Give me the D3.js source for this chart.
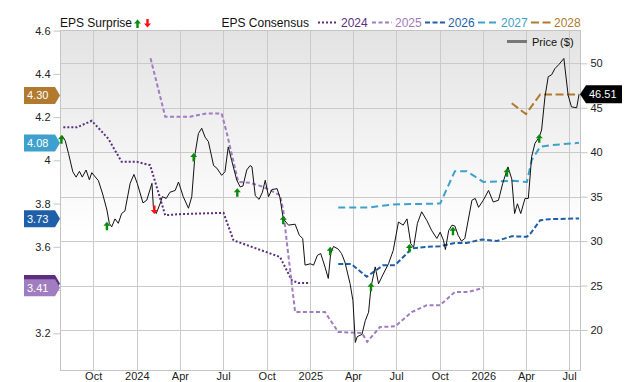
<!DOCTYPE html>
<html>
<head>
<meta charset="utf-8">
<script src="https://cdn.jsdelivr.net/npm/d3@7"></script>
<style>
  body { margin: 0; background: #fff; }
  svg { display: block; font-family: "Liberation Sans", Arial, sans-serif; }
</style>
</head>
<body>
<svg id="chart" width="640" height="382"></svg>
<script>
// ---- data ----
const priceData = [
  ["2023-07-27",41.9],["2023-08-03",41.3],["2023-08-10",39.85],["2023-08-19",37.8],["2023-08-26",37.2],
  ["2023-09-02",37.85],["2023-09-08",37.2],["2023-09-16",38.0],["2023-09-23",36.9],["2023-09-28",37.7],
  ["2023-10-12",36.8],["2023-10-21",35.3],["2023-10-30",33.5],["2023-11-04",32.0],["2023-11-09",31.6],
  ["2023-11-16",32.5],["2023-11-23",32.0],["2023-11-30",33.1],["2023-12-07",33.4],["2023-12-18",36.5],
  ["2023-12-26",37.5],["2024-01-02",36.5],["2024-01-14",34.3],["2024-01-22",34.6],["2024-02-02",36.5],
  ["2024-02-05",33.8],["2024-02-11",33.1],["2024-02-19",34.2],["2024-02-24",35.0],["2024-03-03",34.8],
  ["2024-03-11",35.5],["2024-03-22",35.7],["2024-03-29",36.65],["2024-04-08",35.0],["2024-04-19",33.7],
  ["2024-04-26",35.0],["2024-05-03",39.85],["2024-05-10",42.1],["2024-05-17",42.7],["2024-05-24",41.7],
  ["2024-05-31",41.2],["2024-06-11",38.5],["2024-06-18",38.2],["2024-06-28",37.4],["2024-07-05",37.8],
  ["2024-07-12",40.6],["2024-07-19",39.1],["2024-07-30",36.85],["2024-08-06",36.1],["2024-08-12",36.2],
  ["2024-08-20",38.0],["2024-08-27",38.5],["2024-08-31",38.35],["2024-09-07",35.1],["2024-09-15",34.7],
  ["2024-09-22",35.5],["2024-09-28",36.85],["2024-10-05",35.0],["2024-10-12",35.8],["2024-10-23",35.9],
  ["2024-10-29",34.9],["2024-11-05",32.5],["2024-11-16",31.8],["2024-11-30",31.9],["2024-12-09",30.65],
  ["2024-12-16",30.3],["2024-12-21",27.3],["2025-01-01",27.45],["2025-01-08",27.3],["2025-01-16",28.4],
  ["2025-01-23",28.6],["2025-02-01",27.1],["2025-02-08",25.8],["2025-02-13",28.6],["2025-02-19",29.4],
  ["2025-03-01",29.1],["2025-03-08",28.6],["2025-03-15",27.65],["2025-03-26",25.2],["2025-04-01",23.3],
  ["2025-04-06",18.6],["2025-04-10",19.25],["2025-04-20",19.5],["2025-04-27",21.05],["2025-05-04",22.0],
  ["2025-05-09",24.8],["2025-05-18",27.1],["2025-05-25",25.2],["2025-06-04",26.3],["2025-06-15",27.45],
  ["2025-06-25",28.95],["2025-07-06",32.15],["2025-07-16",31.8],["2025-07-24",32.5],["2025-08-01",29.7],
  ["2025-08-07",29.3],["2025-08-15",32.0],["2025-08-24",33.3],["2025-09-04",32.3],["2025-09-14",31.2],
  ["2025-09-25",30.3],["2025-10-02",31.0],["2025-10-09",30.1],["2025-10-13",29.05],["2025-10-20",31.2],
  ["2025-10-27",31.8],["2025-11-02",31.7],["2025-11-09",30.65],["2025-11-16",30.0],["2025-11-23",30.3],
  ["2025-12-08",34.6],["2025-12-15",34.8],["2025-12-22",33.8],["2026-01-01",34.6],["2026-01-12",35.7],
  ["2026-01-22",34.4],["2026-02-02",34.6],["2026-02-11",36.5],["2026-02-22",38.35],["2026-03-02",37.0],
  ["2026-03-08",33.1],["2026-03-14",34.2],["2026-03-21",33.1],["2026-03-30",34.8],["2026-04-06",34.8],
  ["2026-04-13",39.5],["2026-04-20",41.0],["2026-04-29",41.7],["2026-05-04",42.5],["2026-05-11",46.2],
  ["2026-05-18",48.5],["2026-05-25",48.7],["2026-06-01",49.4],["2026-06-10",49.9],["2026-06-20",50.55],
  ["2026-06-29",46.4],["2026-07-06",45.1],["2026-07-17",45.0],["2026-07-22",46.51]
];

const eps2024 = [
  ["2023-07-30",4.153],["2023-08-28",4.153],["2023-09-28",4.183],["2023-11-02",4.10],["2023-11-30",3.993],
  ["2024-01-01",3.993],["2024-01-29",3.978],["2024-02-12",3.877],["2024-03-01",3.746],["2024-04-01",3.751],
  ["2024-05-13",3.754],["2024-07-02",3.757],["2024-07-23",3.63],["2024-10-29",3.553],["2024-11-23",3.445],
  ["2024-12-07",3.433],["2025-01-01",3.433]
];
const eps2025 = [
  ["2024-01-30",4.472],["2024-03-01",4.202],["2024-04-22",4.202],["2024-05-28",4.217],["2024-06-28",4.217],
  ["2024-07-09",4.125],["2024-08-02",3.90],["2024-08-27",3.896],["2024-09-24",3.877],["2024-10-29",3.839],
  ["2024-11-05",3.77],["2024-11-12",3.63],["2024-11-30",3.298],["2025-02-01",3.298],["2025-03-01",3.206],
  ["2025-04-20",3.201],["2025-05-01",3.16],["2025-05-28",3.229],["2025-06-29",3.232],["2025-08-03",3.298],
  ["2025-09-04",3.33],["2025-10-02",3.33],["2025-11-02",3.391],["2025-11-30",3.391],["2026-01-01",3.41]
];
const eps2026 = [
  ["2025-03-01",3.52],["2025-03-29",3.52],["2025-04-30",3.461],["2025-06-04",3.515],["2025-06-29",3.515],
  ["2025-08-03",3.592],["2025-09-04",3.60],["2025-10-02",3.603],["2025-11-02",3.618],["2025-11-27",3.618],
  ["2025-12-29",3.634],["2026-01-30",3.627],["2026-03-02",3.649],["2026-04-03",3.646],["2026-04-10",3.66],
  ["2026-05-01",3.723],["2026-05-22",3.728],["2026-07-22",3.731]
];
const eps2027 = [
  ["2025-03-01",3.782],["2025-05-04",3.782],["2025-06-25",3.796],["2025-10-02",3.80],["2025-11-02",3.95],
  ["2025-11-27",3.95],["2026-01-01",3.90],["2026-03-05",3.905],["2026-04-03",3.90],["2026-04-13",4.0],
  ["2026-05-01",4.063],["2026-05-22",4.07],["2026-07-22",4.081]
];
const eps2028 = [
  ["2026-03-02",4.264],["2026-04-01",4.214],["2026-05-01",4.305],["2026-07-22",4.305]
];

const surprises = [
  ["2023-07-26",41.9,"up"],["2023-10-30",32.18,"up"],["2024-02-07",33.05,"down"],["2024-04-30",39.9,"up"],
  ["2024-07-31",35.95,"up"],["2024-11-05",32.86,"up"],["2025-02-12",29.37,"up"],["2025-05-09",25.32,"up"],
  ["2025-07-29",29.67,"up"],["2025-10-29",31.62,"up"],["2026-02-20",38.19,"up"],["2026-04-29",42.01,"up"]
];

const years = ["2024","2025","2026","2027","2028"];
const yearSeries = [eps2024, eps2025, eps2026, eps2027, eps2028];
const yearTags = [3.43, 3.41, 3.73, 4.08, 4.30];
// the 2024 tag sits under the 2025 one, its label is not visible
const yearTagLabels = ["", "3.41", "3.73", "4.08", "4.30"];
const lastPrice = 46.51;
const epsTicks = [3.2, 3.4, 3.6, 3.8, 4.0, 4.2, 4.4, 4.6];
const priceTicks = [20, 25, 30, 35, 40, 45, 50];

// ---- styles ----
const yearColors = ["#5b2e7e", "#a07cc0", "#1f5fa8", "#3ea0cc", "#b17a2e"];
const yearDash = ["2,2", "4,2.5", "5,2.5", "7,4", "8,3.5"];

const pL = 60, pR = 580, pT = 30, pB = 370;
const parse = d3.timeParse("%Y-%m-%d");

const svg = d3.select("#chart");

const x = d3.scaleTime()
  .domain([parse("2023-07-23"), parse("2026-07-24")])
  .range([pL, pR]);
const yEps = d3.scaleLinear().domain([3.03, 4.603]).range([pB, pT]);
const yPrice = d3.scaleLinear().domain([15.5, 53.75]).range([pB, pT]);

// background gradient
const defs = svg.append("defs");
const grad = defs.append("linearGradient").attr("id", "bg")
  .attr("x1", 0).attr("y1", 0).attr("x2", 0).attr("y2", 1);
grad.append("stop").attr("offset", "0%").attr("stop-color", "#e3e3e3");
grad.append("stop").attr("offset", "60%").attr("stop-color", "#ffffff");
grad.append("stop").attr("offset", "100%").attr("stop-color", "#ffffff");
defs.append("clipPath").attr("id", "plotClip")
  .append("rect").attr("x", pL).attr("y", pT).attr("width", pR - pL).attr("height", pB - pT);

svg.append("rect").attr("x", pL).attr("y", pT)
  .attr("width", pR - pL).attr("height", pB - pT)
  .attr("fill", "url(#bg)");

// grid
const xTicks = d3.timeMonth.every(3).range(parse("2023-10-01"), parse("2026-07-25"));
svg.append("g").selectAll("line").data(xTicks).join("line")
  .attr("x1", d => Math.round(x(d)) + 0.5).attr("x2", d => Math.round(x(d)) + 0.5)
  .attr("y1", pT).attr("y2", pB)
  .attr("stroke", "#cacaca");
svg.append("g").selectAll("line").data(priceTicks).join("line")
  .attr("x1", pL).attr("x2", pR)
  .attr("y1", d => Math.round(yPrice(d)) + 0.5).attr("y2", d => Math.round(yPrice(d)) + 0.5)
  .attr("stroke", "#cacaca");

svg.append("rect").attr("x", pL + 0.5).attr("y", pT + 0.5)
  .attr("width", pR - pL).attr("height", pB - pT)
  .attr("fill", "none").attr("stroke", "#c4c4c4");

// axes (3.4 label is covered by the year tags in the picture)
const axL = svg.append("g").attr("transform", `translate(${pL + 0.5},0)`)
  .call(d3.axisLeft(yEps).tickValues(epsTicks).tickSize(7).tickPadding(3)
    .tickFormat(d => Math.abs(d - 3.4) < 1e-9 ? "" : d3.format("~g")(d)));
const axR = svg.append("g").attr("transform", `translate(${pR + 0.5},0)`)
  .call(d3.axisRight(yPrice).tickValues(priceTicks).tickSize(7).tickPadding(3));
const fmtX = d => d.getMonth() === 0 ? d3.timeFormat("%Y")(d) : d3.timeFormat("%b")(d);
const axB = svg.append("g").attr("transform", `translate(0,${pB})`)
  .call(d3.axisBottom(x).tickValues(xTicks).tickSize(0).tickPadding(2).tickFormat(fmtX));
[axL, axR, axB].forEach(a => {
  a.select(".domain").remove();
  a.selectAll(".tick line").attr("stroke", "#c4c4c4");
  a.selectAll("text").attr("fill", "#222").style("font-size", "11px")
    .style("font-family", "'Liberation Sans', Arial, sans-serif");
});

// consensus lines
const plot = svg.append("g").attr("clip-path", "url(#plotClip)");
const epsLine = d3.line().x(d => x(parse(d[0]))).y(d => yEps(d[1]));
yearSeries.forEach((s, i) => {
  plot.append("path").datum(s)
    .attr("d", epsLine)
    .attr("fill", "none")
    .attr("stroke", yearColors[i])
    .attr("stroke-width", 2)
    .attr("stroke-dasharray", yearDash[i]);
});

// price line
const priceLine = d3.line().x(d => x(parse(d[0]))).y(d => yPrice(d[1]));
plot.append("path").datum(priceData)
  .attr("d", priceLine)
  .attr("fill", "none")
  .attr("stroke", "#111")
  .attr("stroke-width", 1);

// surprise arrows
function arrowPath(dir) {
  const s = dir === "up" ? 1 : -1;
  return `M0,0 L3.5,${4 * s} L1.2,${4 * s} L1.2,${8.5 * s} L-1.2,${8.5 * s} L-1.2,${4 * s} L-3.5,${4 * s} Z`;
}
svg.append("g").selectAll("path").data(surprises).join("path")
  .attr("transform", d => `translate(${x(parse(d[0]))},${yPrice(d[1])})`)
  .attr("d", d => arrowPath(d[2]))
  .attr("fill", d => d[2] === "up" ? "#0a8a0a" : "#ff1010");

// left tags
const tagG = svg.append("g");
yearTags.forEach((v, i) => {
  const yy = yEps(v);
  tagG.append("path")
    .attr("d", `M24,${yy - 8.5} L55,${yy - 8.5} L60,${yy} L55,${yy + 8.5} L24,${yy + 8.5} Z`)
    .attr("fill", yearColors[i]);
  if (yearTagLabels[i]) {
    tagG.append("text").attr("x", 27).attr("y", yy + 4)
      .attr("fill", "#fff").style("font-size", "11px").text(yearTagLabels[i]);
  }
});

// right price tag
const py = yPrice(lastPrice);
svg.append("path")
  .attr("d", `M${pR},${py} L${pR + 6},${py - 9} L622,${py - 9} L622,${py + 9} L${pR + 6},${py + 9} Z`)
  .attr("fill", "#000");
svg.append("text").attr("x", 589).attr("y", py + 4)
  .attr("fill", "#fff").style("font-size", "11px").text(lastPrice.toFixed(2));

// legend
svg.append("text").attr("x", 60).attr("y", 27).style("font-size", "12px").attr("fill", "#111").text("EPS Surprise");
svg.append("path").attr("transform", "translate(137.5,19.5)").attr("d", arrowPath("up")).attr("fill", "#0a8a0a");
svg.append("path").attr("transform", "translate(147.5,27.5)").attr("d", arrowPath("down")).attr("fill", "#ff1010");
svg.append("text").attr("x", 221.5).attr("y", 27).style("font-size", "12px").attr("fill", "#111").text("EPS Consensus");

const legX = [318, 372, 425, 478, 531];
years.forEach((yr, i) => {
  svg.append("line").attr("x1", legX[i]).attr("x2", legX[i] + 20).attr("y1", 22.5).attr("y2", 22.5)
    .attr("stroke", yearColors[i]).attr("stroke-width", 2).attr("stroke-dasharray", yearDash[i]);
  svg.append("text").attr("x", legX[i] + 23).attr("y", 27).style("font-size", "12px")
    .attr("fill", yearColors[i]).text(yr);
});

svg.append("line").attr("x1", 507).attr("x2", 527).attr("y1", 41.5).attr("y2", 41.5)
  .attr("stroke", "#777").attr("stroke-width", 3);
svg.append("text").attr("x", 532).attr("y", 45.5).style("font-size", "11px").attr("fill", "#111").text("Price ($)");
</script>
</body>
</html>
